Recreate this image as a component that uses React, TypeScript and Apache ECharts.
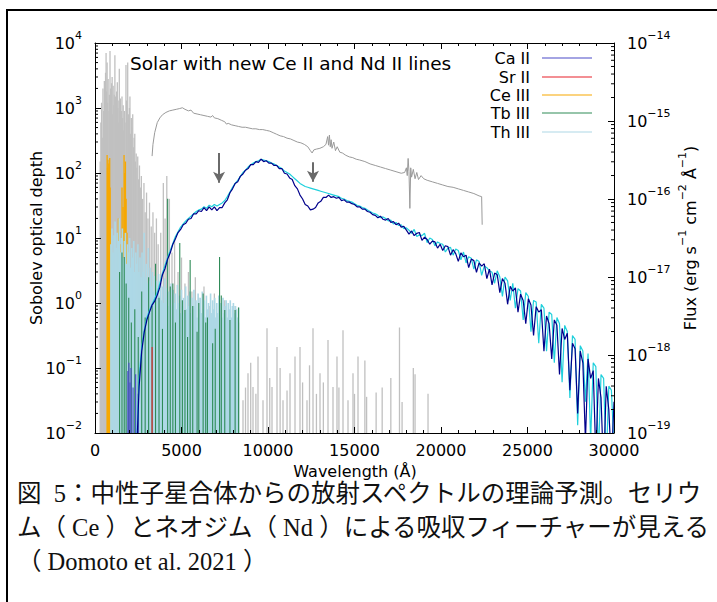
import React, { useEffect, useRef } from "react";
import * as echarts from "echarts";

const FONT = "'DejaVu Sans', 'Liberation Sans', sans-serif";
const CAPTION_FONT = "'Liberation Serif', 'Noto Sans CJK JP', serif";

const titleText = "Solar with new Ce II and Nd II lines";
const xAxisName = "Wavelength (Å)";
const yAxisName = "Sobolev optical depth";
const captionLines = [
  "図\u20025：中性子星合体からの放射スペクトルの理論予測。セリウ",
  "ム（ Ce ）とネオジム（ Nd ）による吸収フィーチャーが見える",
  "（ Domoto et al. 2021 ）",
];

const legendNames = ["Ca II", "Sr II", "Ce III", "Tb III", "Th III"];
const legendColors = ["#4a4ac8", "#e8202a", "#f7a800", "#2e8b57", "#add8e6"];

const xTicks = [0, 5000, 10000, 15000, 20000, 25000, 30000];
const tauRange = [0.01, 10000];
const fluxRange = [1e-19, 1e-14];

// Sobolev optical depth of all lines (solar abundances): [wavelength Å, tau]
const allLines = [
  [300, 150], [340, 600], [380, 1200], [420, 350], [460, 2000], [500, 900], [540, 2600], [580, 1400],
  [610, 3500], [640, 7000], [670, 1800], [700, 5000], [730, 1200], [760, 2800], [800, 900], [830, 1600],
  [867, 7500], [900, 2000], [930, 1300], [960, 2400], [990, 3000], [1020, 800], [1050, 2200], [1080, 1100],
  [1110, 1600], [1150, 6500], [1180, 1500], [1210, 700], [1250, 1800], [1290, 2500], [1320, 1000], [1350, 600],
  [1380, 1300], [1405, 4000], [1440, 900], [1470, 1400], [1500, 500], [1530, 900], [1560, 1500], [1600, 700],
  [1630, 1100], [1660, 450], [1700, 900], [1740, 600], [1790, 4600], [1820, 1300], [1860, 700], [1890, 5000],
  [1930, 800], [1960, 600], [1990, 1000], [2020, 1500], [2060, 400], [2100, 700], [2140, 500], [2180, 800],
  [2220, 250], [2260, 350], [2300, 400], [2340, 150], [2380, 200], [2420, 120], [2470, 180], [2520, 80],
  [2570, 130], [2620, 60], [2680, 90], [2750, 40], [2830, 70], [2900, 25], [2980, 50], [3060, 20],
  [3150, 35], [3250, 15], [3350, 25], [3450, 12], [3550, 20], [3650, 8], [3800, 12], [3950, 70],
  [4050, 20], [4150, 90], [4300, 40], [4450, 6], [4600, 10], [4800, 3], [5000, 5], [5200, 2],
  [5400, 3], [5600, 1.5], [5800, 2.5], [6000, 1.2], [6300, 1.8], [6600, 0.9], [6900, 1.4], [7200, 0.7],
  [7500, 1.1], [7800, 0.6], [8100, 0.9], [8300, 0.5],
  [8555, 0.032], [8700, 0.05], [8844, 0.083], [9000, 0.12], [9133, 0.051], [9300, 0.04], [9422, 0.15],
  [9711, 0.032], [9942, 0.41], [10100, 0.07], [10231, 0.051], [10520, 0.21], [10700, 0.1], [10867, 0.032],
  [11100, 0.045], [11272, 0.083], [11561, 0.15], [11850, 0.21], [12000, 0.06], [12254, 0.032], [12400, 0.11],
  [12601, 0.41], [12800, 0.04], [13006, 0.083], [13200, 0.06], [13468, 0.27], [13757, 0.051], [13988, 0.15],
  [14100, 0.05], [14335, 0.38], [14624, 0.032], [14913, 0.083], [15000, 0.04], [15202, 0.15], [15600, 0.13],
  [15700, 0.036], [16250, 0.042], [16600, 0.05], [17100, 0.07], [17600, 0.42], [17750, 0.03], [18400, 0.1],
  [18500, 0.08], [19250, 0.04],
];

const ceIII = [
  [700, 190], [725, 120], [750, 160], [775, 100], [800, 140], [825, 80], [850, 170], [875, 60],
  [1350, 20], [1450, 8], [1560, 60], [1620, 30], [1680, 190], [1720, 100], [1760, 150], [1800, 40],
  [1850, 12], [1950, 3], [2900, 0.05], [3000, 0.046], [3250, 0.03], [6070, 0.49], [6700, 0.1],
];

const thIII = [
  [920, 8], [980, 14], [1040, 6], [1100, 11], [1160, 18], [1220, 7], [1280, 12], [1340, 9],
  [1400, 20], [1460, 6], [1520, 10], [1580, 14], [1640, 5], [1700, 9], [1760, 12], [1820, 4],
  [1880, 8], [1940, 6], [2000, 10], [2060, 3.5], [2120, 7], [2180, 5], [2240, 9], [2300, 3],
  [2360, 6], [2420, 4], [2480, 8], [2540, 3], [2600, 5], [2660, 2.5], [2720, 6], [2780, 3],
  [2840, 12], [2900, 2.5], [2960, 4], [3020, 2], [3080, 7], [3140, 2.2], [3200, 3.5], [3260, 1.8],
  [3320, 3], [3380, 1.5], [3440, 2.6], [3500, 1.4], [3560, 2.2], [3620, 1.2], [3680, 2.8], [3740, 1.3],
  [3800, 2], [3860, 1.1], [3920, 1.8], [3980, 1], [4040, 2.4], [4100, 1.2], [4160, 1.7], [4220, 0.9],
  [4280, 1.5], [4340, 1.1], [4400, 2], [4460, 0.9], [4520, 1.6], [4580, 1], [4640, 1.4], [4700, 0.8],
  [4760, 1.9], [4820, 1], [4880, 1.3], [4940, 0.7], [5000, 1.6], [5060, 0.9], [5120, 1.2], [5180, 0.7],
  [5240, 1.8], [5300, 0.8], [5360, 1.3], [5420, 0.9], [5480, 1.5], [5540, 0.7], [5600, 1.2], [5660, 0.8],
  [5720, 1.6], [5780, 0.9], [5840, 1.1], [5900, 0.6], [5960, 1.4], [6020, 0.8], [6080, 1.2], [6140, 0.7],
  [6200, 1.5], [6260, 0.8], [6320, 1.1], [6380, 0.6], [6440, 1.3], [6500, 0.8], [6560, 1.0], [6620, 0.6],
  [6680, 1.4], [6740, 0.7], [6800, 1.1], [6860, 0.8], [6920, 1.2], [6980, 0.6], [7040, 1.0], [7100, 0.7],
  [7160, 1.3], [7220, 0.8], [7280, 1.0], [7340, 0.6], [7400, 1.2], [7460, 0.7], [7520, 0.9], [7580, 1.1],
  [7640, 0.6], [7700, 1.0], [7760, 0.8], [7820, 1.1], [7880, 0.6], [7940, 0.9], [8000, 1.0], [8060, 0.7],
  [8120, 0.9], [8180, 0.8], [8240, 0.6], [8300, 0.85],
];

const tbIII = [
  [1420, 3], [1560, 6], [1690, 5.1], [1800, 2], [1950, 1.2], [2100, 0.5], [2300, 0.8], [2500, 0.3],
  [2700, 1.5], [2900, 0.6], [3100, 2.5], [3300, 0.9], [3500, 4], [3700, 1.2], [3900, 0.4], [4200, 40],
  [4350, 1.8], [4500, 2.0], [4650, 0.5], [4900, 8.4], [5050, 1.1], [5200, 0.78], [5350, 0.3], [5500, 4.6],
  [5650, 0.9], [5900, 0.36], [6000, 1.0], [6250, 1.4], [6400, 0.5], [6500, 0.6], [6800, 0.24], [6950, 0.4],
  [7200, 5.1], [7300, 1.3], [7500, 0.78], [7800, 0.55], [8100, 0.78], [8300, 0.85],
];

const caII = [[1900, 0.09], [1960, 0.12], [2020, 0.06], [2080, 0.1], [2200, 0.05], [2350, 0.08], [2500, 0.04]];
const srII = [[3300, 0.21]];

// Spectra (right axis), [wavelength Å, log10 flux]
const newLinesLogFlux = [
  [2400, -19.3], [2550, -18.4], [2700, -17.95], [2850, -17.7], [3000, -17.55], [3150, -17.45], [3300, -17.36], [3450, -17.31],
  [3600, -17.23], [3750, -17.13], [3900, -16.97], [4050, -16.89], [4200, -16.77], [4350, -16.69], [4500, -16.58], [4650, -16.51],
  [4800, -16.43], [4950, -16.39], [5100, -16.33], [5250, -16.31], [5400, -16.26], [5550, -16.25], [5700, -16.19], [5850, -16.19],
  [6000, -16.15], [6150, -16.16], [6300, -16.11], [6450, -16.15], [6600, -16.1], [6750, -16.14], [6900, -16.1], [7050, -16.15],
  [7200, -16.11], [7350, -16.11], [7500, -16.05], [7650, -16.01], [7800, -15.92], [7950, -15.87], [8100, -15.8], [8250, -15.78],
  [8400, -15.71], [8550, -15.68], [8700, -15.63], [8850, -15.61], [9000, -15.56], [9150, -15.56], [9300, -15.52], [9450, -15.53],
  [9600, -15.49], [9750, -15.52], [9900, -15.51], [10050, -15.54], [10200, -15.54], [10350, -15.57], [10500, -15.57], [10650, -15.61],
  [10800, -15.61], [10950, -15.67], [11100, -15.68], [11250, -15.73], [11400, -15.75], [11550, -15.83], [11700, -15.87], [11850, -15.95],
  [12000, -16.0], [12150, -16.07], [12300, -16.09], [12450, -16.14], [12600, -16.13], [12750, -16.11], [12900, -16.05], [13050, -16.03],
  [13200, -15.98], [13350, -15.98], [13500, -15.95], [13650, -15.98], [13800, -15.97], [13950, -15.99], [14100, -15.98], [14250, -16.02],
  [14400, -16.01], [14550, -16.04], [14700, -16.04], [14850, -16.06], [15000, -16.07], [15150, -16.1], [15300, -16.1], [15450, -16.13],
  [15600, -16.13], [15750, -16.16], [15900, -16.17], [16050, -16.2], [16200, -16.21], [16350, -16.24], [16500, -16.22], [16650, -16.26],
  [16800, -16.27], [16950, -16.25], [17100, -16.3], [17250, -16.29], [17400, -16.33], [17550, -16.31], [17700, -16.36], [17850, -16.35],
  [18000, -16.4], [18150, -16.45], [18300, -16.41], [18450, -16.47], [18600, -16.44], [18750, -16.43], [18900, -16.53], [19050, -16.49],
  [19200, -16.52], [19350, -16.58], [19500, -16.54], [19650, -16.55], [19800, -16.63], [19950, -16.58], [20100, -16.66], [20250, -16.6],
  [20400, -16.61], [20550, -16.72], [20700, -16.65], [20850, -16.7], [21000, -16.8], [21150, -16.69], [21300, -16.74], [21450, -16.72],
  [21600, -16.88], [21750, -16.77], [21900, -16.79], [22050, -16.94], [22200, -16.82], [22350, -16.86], [22500, -16.83], [22650, -17.02],
  [22800, -16.9], [22950, -17.1], [23100, -16.95], [23250, -16.97], [23400, -17.2], [23550, -17.02], [23700, -17.08], [23850, -17.35],
  [24000, -17.12], [24150, -17.18], [24300, -17.14], [24450, -17.45], [24600, -17.22], [24750, -17.3], [24900, -17.6], [25050, -17.28],
  [25200, -17.36], [25350, -17.75], [25500, -17.38], [25650, -17.45], [25800, -17.42], [25950, -17.95], [26100, -17.5], [26250, -17.6],
  [26400, -18.05], [26550, -17.55], [26700, -17.62], [26850, -18.25], [27000, -17.66], [27150, -17.8], [27300, -17.72], [27450, -18.45],
  [27600, -17.85], [27750, -17.92], [27900, -18.75], [28050, -17.95], [28200, -18.1], [28350, -19.1], [28500, -18.05], [28650, -18.3],
  [28800, -18.2], [28950, -19.3], [29100, -18.3], [29250, -18.55], [29400, -19.5], [29550, -18.4], [29700, -18.7], [29850, -19.4],
  [30000, -18.6],
];

const baseLogFlux = [
  [2400, -19.2], [2550, -18.3], [2700, -17.9], [2850, -17.68], [3000, -17.52], [3150, -17.43], [3300, -17.35], [3450, -17.28],
  [3600, -17.2], [3750, -17.08], [3900, -16.95], [4050, -16.85], [4200, -16.75], [4350, -16.66], [4500, -16.57], [4650, -16.48],
  [4800, -16.42], [4950, -16.36], [5100, -16.32], [5250, -16.28], [5400, -16.25], [5550, -16.22], [5700, -16.19], [5850, -16.16],
  [6000, -16.14], [6150, -16.13], [6300, -16.1], [6450, -16.12], [6600, -16.08], [6750, -16.1], [6900, -16.07], [7050, -16.09],
  [7200, -16.07], [7350, -16.05], [7500, -16.02], [7650, -15.97], [7800, -15.91], [7950, -15.85], [8100, -15.8], [8250, -15.76],
  [8400, -15.71], [8550, -15.66], [8700, -15.63], [8850, -15.59], [9000, -15.56], [9150, -15.54], [9300, -15.52], [9450, -15.51],
  [9600, -15.49], [9750, -15.5], [9900, -15.51], [10050, -15.52], [10200, -15.54], [10350, -15.55], [10500, -15.57], [10650, -15.59],
  [10800, -15.61], [10950, -15.64], [11100, -15.66], [11250, -15.68], [11400, -15.71], [11550, -15.74], [11700, -15.77], [11850, -15.8],
  [12000, -15.82], [12150, -15.84], [12300, -15.85], [12450, -15.86], [12600, -15.87], [12750, -15.88], [12900, -15.89], [13050, -15.9],
  [13200, -15.91], [13350, -15.92], [13500, -15.93], [13650, -15.94], [13800, -15.95], [13950, -15.96], [14100, -15.97], [14250, -15.99],
  [14400, -16.0], [14550, -16.02], [14700, -16.03], [14850, -16.04], [15000, -16.06], [15150, -16.08], [15300, -16.09], [15450, -16.11],
  [15600, -16.12], [15750, -16.14], [15900, -16.16], [16050, -16.18], [16200, -16.19], [16350, -16.21], [16500, -16.24], [16650, -16.23],
  [16800, -16.25], [16950, -16.28], [17100, -16.27], [17250, -16.32], [17400, -16.3], [17550, -16.34], [17700, -16.33], [17850, -16.38],
  [18000, -16.37], [18150, -16.4], [18300, -16.44], [18450, -16.39], [18600, -16.48], [18750, -16.46], [18900, -16.47], [19050, -16.44],
  [19200, -16.56], [19350, -16.5], [19500, -16.52], [19650, -16.6], [19800, -16.55], [19950, -16.57], [20100, -16.58], [20250, -16.68],
  [20400, -16.63], [20550, -16.62], [20700, -16.72], [20850, -16.64], [21000, -16.66], [21150, -16.78], [21300, -16.68], [21450, -16.82],
  [21600, -16.74], [21750, -16.76], [21900, -16.9], [22050, -16.78], [22200, -16.8], [22350, -16.98], [22500, -16.86], [22650, -16.88],
  [22800, -16.92], [22950, -16.94], [23100, -17.08], [23250, -16.92], [23400, -17.0], [23550, -17.25], [23700, -17.0], [23850, -17.05],
  [24000, -17.3], [24150, -17.08], [24300, -17.4], [24450, -17.15], [24600, -17.18], [24750, -17.55], [24900, -17.2], [25050, -17.25],
  [25200, -17.7], [25350, -17.3], [25500, -17.32], [25650, -17.85], [25800, -17.35], [25950, -17.4], [26100, -17.95], [26250, -17.45],
  [26400, -17.48], [26550, -18.1], [26700, -17.52], [26850, -17.6], [27000, -18.35], [27150, -17.62], [27300, -17.7], [27450, -18.55],
  [27600, -17.75], [27750, -17.8], [27900, -18.9], [28050, -17.88], [28200, -17.95], [28350, -18.6], [28500, -17.98], [28650, -19.1],
  [28800, -18.1], [28950, -18.15], [29100, -19.3], [29250, -18.25], [29400, -18.3], [29550, -19.4], [29700, -18.4], [29850, -18.45],
  [30000, -19.2],
];

const observedLogFlux = [
  [3300, -15.45], [3350, -15.3], [3450, -15.15], [3600, -15.02], [3750, -14.96], [3900, -14.92], [4100, -14.89], [4300, -14.87],
  [4500, -14.86], [4700, -14.85], [4900, -14.84], [5050, -14.83], [5200, -14.85], [5400, -14.87], [5550, -14.86], [5700, -14.9],
  [5900, -14.91], [6100, -14.92], [6300, -14.93], [6500, -14.94], [6700, -14.95], [6800, -14.93], [6900, -14.96], [7100, -14.97],
  [7300, -14.99], [7500, -15.01], [7600, -15.04], [7700, -15.03], [7900, -15.05], [8100, -15.06], [8300, -15.07], [8500, -15.08],
  [8700, -15.08], [8900, -15.09], [9100, -15.1], [9300, -15.1], [9500, -15.11], [9700, -15.11], [9900, -15.12], [10100, -15.13],
  [10300, -15.15], [10500, -15.17], [10700, -15.19], [10900, -15.2], [11100, -15.22], [11300, -15.23], [11500, -15.25], [11700, -15.27],
  [11900, -15.28], [12100, -15.3], [12300, -15.33], [12450, -15.38], [12550, -15.41], [12650, -15.37], [12800, -15.36], [13000, -15.35],
  [13200, -15.33], [13350, -15.3], [13450, -15.2], [13500, -15.31], [13550, -15.18], [13600, -15.33], [13650, -15.24], [13700, -15.35],
  [13800, -15.27], [13900, -15.38], [14000, -15.33], [14150, -15.4], [14300, -15.41], [14500, -15.44], [14700, -15.46], [14900, -15.47],
  [15100, -15.49], [15300, -15.5], [15600, -15.52], [15900, -15.55], [16200, -15.57], [16500, -15.59], [16800, -15.61], [17100, -15.63],
  [17400, -15.65], [17700, -15.67], [17900, -15.66], [18000, -15.6], [18050, -15.7], [18100, -15.48], [18150, -15.65], [18200, -16.12],
  [18250, -15.6], [18300, -15.72], [18400, -15.62], [18500, -15.74], [18600, -15.66], [18700, -15.75], [18850, -15.7], [19000, -15.74],
  [19200, -15.76], [19500, -15.78], [19800, -15.8], [20100, -15.82], [20400, -15.84], [20700, -15.85], [21000, -15.87], [21300, -15.89],
  [21600, -15.91], [21900, -15.93], [22200, -15.96], [22350, -15.97], [22380, -16.33],
];

// absorption-feature arrows: wavelength, top and tip flux
const arrowWavelengths = [7170, 12600];
const arrowTopFlux = [3.9e-16, 2.95e-16];
const arrowTipFlux = [1.62e-16, 1.66e-16];

const toFlux = (arr: number[][]) => arr.map(([w, l]) => [w, Math.pow(10, l)]);

const supLabel = (v: number) => {
  const e = Math.round(Math.log10(v));
  return `{b|10}{s|${e < 0 ? "\u2212" + -e : e}}`;
};
const supRich = {
  b: { fontSize: 16, fontFamily: FONT, color: "#000", lineHeight: 26 },
  s: { fontSize: 11, fontFamily: FONT, color: "#000", lineHeight: 10, verticalAlign: "top" },
};

const spikeSeries = (name: string, data: number[][], color: string, width: number, z: number) => ({
  type: "custom",
  name,
  xAxisIndex: 0,
  yAxisIndex: 0,
  silent: true,
  z,
  data,
  encode: { x: 0, y: 1 },
  renderItem: (_p: any, api: any) => {
    const x = api.value(0);
    const top = api.coord([x, api.value(1)]);
    const bottom = api.coord([x, tauRange[0]]);
    return {
      type: "line",
      shape: { x1: bottom[0], y1: bottom[1], x2: top[0], y2: top[1] },
      style: { stroke: color, lineWidth: width },
    };
  },
});

const minorValues = (lo: number, hi: number) => {
  const out: number[] = [];
  for (let d = lo; d < hi; d++) for (let k = 2; k <= 9; k++) out.push(k * Math.pow(10, d));
  return out;
};

const minorTickSeries = (yAxisIndex: number, values: number[], xEdge: number, dir: number) => ({
  type: "custom",
  xAxisIndex: 0,
  yAxisIndex,
  silent: true,
  z: 12,
  data: values.map((v) => [xEdge, v]),
  encode: { x: 0, y: 1 },
  renderItem: (_p: any, api: any) => {
    const p = api.coord([api.value(0), api.value(1)]);
    return {
      type: "line",
      shape: { x1: p[0], y1: p[1], x2: p[0] + dir * 3, y2: p[1] },
      style: { stroke: "#000", lineWidth: 1 },
    };
  },
});

export default function App() {
  const ref = useRef<HTMLDivElement>(null);
  useEffect(() => {
    const chart = echarts.init(ref.current!, null, { renderer: "svg" });
    const axisCommon = {
      axisLine: { show: true, onZero: false, lineStyle: { color: "#000", width: 1 } },
      splitLine: { show: false },
      z: 10,
    };
    const legendY = [58, 77, 95, 113, 132];
    const graphic: any[] = [
      { type: "rect", shape: { x: 7, y: 10, width: 730, height: 620 }, style: { fill: "none", stroke: "#000", lineWidth: 2 }, silent: true },
      {
        type: "text", x: 130, y: 63,
        style: { text: titleText, fontSize: 18.5, fontFamily: FONT, fill: "#000", textAlign: "left", textVerticalAlign: "middle" },
      },
      {
        type: "text", x: 355, y: 471,
        style: {
          text: xAxisName, fontSize: 16, lineHeight: 16, fontFamily: FONT, fill: "#000",
          textAlign: "center", textVerticalAlign: "middle",
        },
      },
      {
        type: "text", x: 36, y: 238, rotation: Math.PI / 2,
        style: { text: yAxisName, fontSize: 16, fontFamily: FONT, fill: "#000", textAlign: "center", textVerticalAlign: "middle" },
      },
      {
        type: "text", x: 690, y: 238, rotation: Math.PI / 2,
        style: {
          text: "{b|Flux (erg s}{s|\u22121}{b| cm}{s|\u22122}{b| Å}{s|\u22121}{b|)}",
          textAlign: "center", textVerticalAlign: "middle", rich: supRich,
        },
      },
    ];
    legendNames.forEach((n, i) => {
      graphic.push({
        type: "text", x: 530, y: legendY[i],
        style: { text: n, fontSize: 16, fontFamily: FONT, fill: "#000", textAlign: "right", textVerticalAlign: "middle" },
      });
      graphic.push({
        type: "line", shape: { x1: 542, y1: legendY[i], x2: 592, y2: legendY[i] },
        style: { stroke: legendColors[i], lineWidth: 1.2 },
      });
    });
    const capY = [493, 527, 561];
    captionLines.forEach((t, i) => {
      graphic.push({
        type: "text", x: 17, y: capY[i],
        style: {
          text: t, fontSize: 24.5, lineHeight: 25, fontFamily: CAPTION_FONT, fill: "#111",
          textAlign: "left", textVerticalAlign: "middle",
        },
      });
    });

    const option: any = {
      animation: false,
      backgroundColor: "#fff",
      grid: { left: 95, top: 43, right: 103, bottom: 169, containLabel: false },
      xAxis: [
        {
          type: "value", position: "bottom", min: xTicks[0], max: xTicks[xTicks.length - 1], interval: 5000,
          ...axisCommon,
          axisTick: { show: true, inside: true, length: 6, lineStyle: { color: "#000" } },
          minorTick: { show: true, splitNumber: 5, length: 3, lineStyle: { color: "#000" } },
          axisLabel: { margin: 9, color: "#000", fontSize: 16, fontFamily: FONT, formatter: (v: number) => String(v) },
        },
        {
          type: "value", position: "top", min: xTicks[0], max: xTicks[xTicks.length - 1], interval: 5000,
          ...axisCommon,
          axisTick: { show: true, inside: true, length: 6, lineStyle: { color: "#000" } },
          minorTick: { show: true, splitNumber: 5, length: 3, lineStyle: { color: "#000" } },
          axisLabel: { show: false },
        },
      ],
      yAxis: [
        {
          type: "log", logBase: 10, position: "left", min: tauRange[0], max: tauRange[1],
          ...axisCommon,
          axisTick: { show: true, inside: true, length: 6, lineStyle: { color: "#000" } },
          axisLabel: { margin: 13, formatter: supLabel, rich: supRich },
        },
        {
          type: "log", logBase: 10, position: "right", min: fluxRange[0], max: fluxRange[1],
          ...axisCommon,
          axisTick: { show: true, inside: true, length: 6, lineStyle: { color: "#000" } },
          axisLabel: { margin: 13, formatter: supLabel, rich: supRich },
        },
      ],
      graphic,
      series: [
        spikeSeries("All lines", allLines, "#c0c0c0", 1.3, 2),
        spikeSeries("Ce III", ceIII, "#f7a800", 1.3, 3),
        spikeSeries("Th III", thIII, "#add8e6", 1.6, 4),
        spikeSeries("Tb III", tbIII, "#2e8b57", 1.1, 5),
        spikeSeries("Ca II", caII, "#4a4ac8", 1.1, 6),
        spikeSeries("Sr II", srII, "#e8202a", 1.1, 6),
        {
          type: "line", name: "Without new lines", xAxisIndex: 0, yAxisIndex: 1, data: toFlux(baseLogFlux),
          showSymbol: false, symbol: "none", clip: true, z: 7, silent: true,
          lineStyle: { color: "#1fd0dc", width: 1.2 },
        },
        {
          type: "line", name: "Solar with new Ce II and Nd II lines", xAxisIndex: 0, yAxisIndex: 1,
          data: toFlux(newLinesLogFlux),
          showSymbol: false, symbol: "none", clip: true, z: 8, silent: true,
          lineStyle: { color: "#00008b", width: 1.2 },
        },
        {
          type: "line", name: "Observed", xAxisIndex: 0, yAxisIndex: 1, data: toFlux(observedLogFlux),
          showSymbol: false, symbol: "none", clip: true, z: 8, silent: true,
          lineStyle: { color: "#9a9a9a", width: 1 },
          markLine: {
            silent: true, symbol: ["none", "arrow"], symbolSize: [9, 11],
            label: { show: false },
            lineStyle: { color: "#6a6a6a", width: 2, type: "solid" },
            data: arrowWavelengths.map((w, i) => [{ coord: [w, arrowTopFlux[i]] }, { coord: [w, arrowTipFlux[i]] }]),
          },
        },
        minorTickSeries(0, minorValues(-2, 4), xTicks[0], 1),
        minorTickSeries(1, minorValues(-19, -14), xTicks[xTicks.length - 1], -1),
      ],
    };
    chart.setOption(option);
    return () => chart.dispose();
  }, []);
  return (
    <div
      ref={ref}
      style={{ position: "absolute", left: 0, top: 0, width: 717, height: 602, background: "#fff" }}
    />
  );
}
